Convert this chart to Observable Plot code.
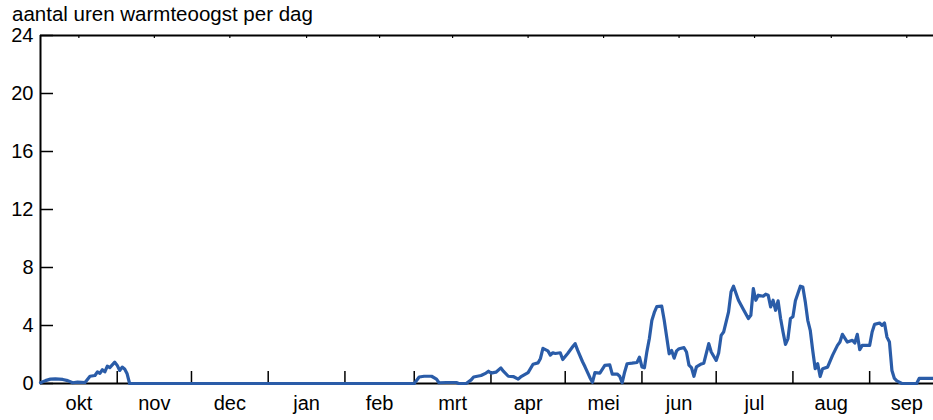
<!DOCTYPE html>
<html>
<head>
<meta charset="utf-8">
<script src="https://cdn.jsdelivr.net/npm/d3@7"></script>
<script src="https://cdn.jsdelivr.net/npm/@observablehq/plot@0.6"></script>
<style>
  html, body { margin: 0; padding: 0; background: #fff; overflow: hidden; }
  #wrap { position: relative; width: 933px; height: 420px; }
  #title { position: absolute; left: 12px; top: 2px; line-height: 24px; font-family: "Liberation Sans", Arial, sans-serif; font-size: 20.5px; color: #000; }
  #chart { position: absolute; left: 0; top: 0; }
</style>
</head>
<body>
<div id="wrap">
  <div id="chart"></div>
  <div id="title">aantal uren warmteoogst per dag</div>
</div>
<script>
// days since 1 October, and hours of heat harvest per day
const dag = [0,2,4,6,9,11,13,15,18,20,22,23,24,25,26,27,28,30,31,32,33,34,35,36,60,90,120,
  151,153,155,158,160,161,164,168,169,172,174,175,178,180,181,182,184,186,187,189,191,193,194,197,199,
  201,202,203,205,206,207,208,210,211,213,215,216,217,219,220,222,223,224,226,228,230,231,233,234,235,236,237,239,
  241,242,243,244,245,246,247,248,249,251,252,253,254,255,256,257,258,260,261,262,263,264,265,267,268,270,271,273,274,275,276,278,279,
  280,282,284,286,287,288,289,290,292,293,294,295,296,297,298,299,300,301,302,303,304,305,306,307,308,309,310,311,312,313,314,315,316,318,
  320,322,323,324,326,328,329,330,331,332,335,336,337,339,340,341,342,343,344,345,346,348,354,355,365];
const uren = [0.05,0.2,0.3,0.32,0.28,0.2,0.05,0.1,0.07,0.5,0.55,0.8,0.7,0.95,0.8,1.2,1.1,1.47,1.25,0.9,1.13,1.0,0.67,0,0,0,0,
  0,0.45,0.5,0.5,0.3,0.05,0.07,0.07,0,0,0.25,0.45,0.55,0.72,0.85,0.72,0.78,1.08,0.85,0.5,0.48,0.3,0.45,0.75,1.33,
  1.42,1.73,2.42,2.25,1.96,2.12,2.07,2.12,1.65,2.07,2.53,2.75,2.3,1.5,1.15,0.4,0.08,0.75,0.72,1.25,1.28,0.65,0.65,0.5,0.05,0.78,1.36,1.4,
  1.45,1.82,1.14,1.08,2.2,3.1,4.35,4.9,5.3,5.33,4.36,3.2,2.05,2.28,1.75,2.25,2.4,2.47,2.17,1.27,1.1,0.5,1.14,1.35,1.4,2.75,2.17,1.59,2.1,3.32,3.55,4.94,6.32,
  6.71,5.74,5.1,4.48,4.7,6.55,5.74,6.09,6.02,6.16,6.09,5.28,5.74,5.05,5.7,4.5,3.55,2.7,3.1,4.48,4.6,5.7,6.2,6.71,6.65,5.63,4.36,3.67,2.28,1.02,1.36,0.48,1.02,1.13,
  1.94,2.63,2.86,3.39,2.86,2.98,2.79,3.39,2.33,2.63,2.63,3.55,4.08,4.17,4.01,4.17,3.2,2.86,0.9,0.35,0.18,0,0,0.35,0.35];

const maanden = ["okt","nov","dec","jan","feb","mrt","apr","mei","jun","jul","aug","sep"];
const maandStart = [0,31,61,92,123,151,182,212,243,273,304,335,365];
const yTicks = [0,4,8,12,16,20,24];

const data = dag.map((d, i) => ({dag: d, uren: uren[i]}));
const midden = maanden.map((m, i) => (maandStart[i] + maandStart[i + 1]) / 2);
const labelOf = new Map(midden.map((m, i) => [m, maanden[i]]));

const font = "Liberation Sans, Arial, sans-serif";

const chart = Plot.plot({
  width: 933,
  height: 420,
  marginLeft: 40,
  marginRight: 0,
  marginTop: 35,
  marginBottom: 37,
  style: {fontFamily: font, fontSize: "20px", color: "#000", background: "#fff"},
  x: {domain: [0, 365], range: [40, 943.4]},
  y: {domain: [0, 24], range: [383, 35]},
  marks: [
    Plot.ruleY([24], {stroke: "#000", strokeWidth: 2}),
    Plot.ruleX([0], {stroke: "#000", strokeWidth: 2}),
    Plot.axisY(yTicks, {anchor: "left", tickSize: -13, tickPadding: 20, strokeWidth: 1.5, label: null, fill: "#000", stroke: "#000"}),
    Plot.axisX(maandStart.slice(1, 12), {anchor: "bottom", tickSize: -12, tickFormat: () => "", label: null, strokeWidth: 1.5, stroke: "#000"}),
    Plot.axisX(midden, {anchor: "top", tickSize: -2, tickFormat: () => "", label: null, strokeWidth: 1.2, stroke: "#000"}),
    Plot.axisX(midden, {anchor: "bottom", tickSize: 0, tickPadding: 12, tickFormat: d => labelOf.get(d), label: null, fill: "#000"}),
    Plot.ruleY([0], {stroke: "#000", strokeWidth: 2}),
    Plot.line(data, {x: "dag", y: "uren", stroke: "#2a5ca8", strokeWidth: 3.2, strokeLinejoin: "round"})
  ]
});
document.getElementById("chart").appendChild(chart);
</script>
</body>
</html>
